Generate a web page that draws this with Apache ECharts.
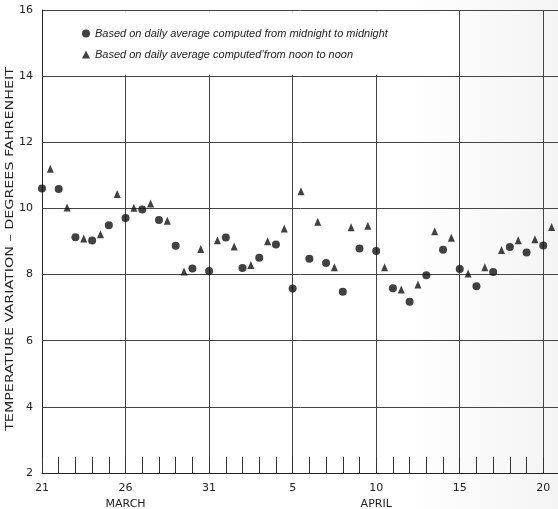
<!DOCTYPE html>
<html>
<head>
<meta charset="utf-8">
<script src="https://cdn.jsdelivr.net/npm/echarts@6/dist/echarts.min.js"></script>
<style>html,body{margin:0;padding:0;background:#fff}#c{width:558px;height:509px}</style>
</head>
<body>
<div id="c"></div>
<script>
// Days counted from March 21 (0) to April 20 (30)
const tickLabels = {0:'21', 5:'26', 10:'31', 15:'5', 20:'10', 25:'15', 30:'20'};
const monthLabels = {5:'MARCH', 20:'APRIL'};
const yAxisTitle = 'TEMPERATURE VARIATION \u2013 DEGREES FAHRENHEIT';

// Midnight-to-midnight daily average (plotted at each day)
const midnightDays = [0,1,2,3,4,5,6,7,8,9,10,11,12,13,14,15,16,17,18,19,20,21,22,23,24,25,26,27,28,29,30];
const midnightVals = [10.60,10.59,9.13,9.03,9.49,9.71,9.97,9.65,8.87,8.18,8.11,9.12,8.20,8.51,8.91,7.58,8.48,8.35,7.48,8.79,8.71,7.59,7.18,7.98,8.75,8.17,7.65,8.08,8.83,8.67,8.88];

// Noon-to-noon daily average (plotted at half days)
const noonDays = [0.5,1.5,2.5,3.5,4.5,5.5,6.5,7.5,8.5,9.5,10.5,11.5,12.5,13.5,14.5,15.5,16.5,17.5,18.5,19.5,20.5,21.5,22.5,23.5,24.5,25.5,26.5,27.5,28.5,29.5,30.5];
const noonVals = [11.20,10.03,9.09,9.22,10.44,10.02,10.15,9.63,8.09,8.77,9.04,8.85,8.29,9.01,9.39,10.52,9.60,8.22,9.43,9.48,8.22,7.55,7.70,9.31,9.11,8.03,8.22,8.74,9.04,9.07,9.44];

const nameMid = 'Based on daily average computed from midnight to midnight';
const nameNoon = 'Based on daily average computed\u2019from noon to noon';

const font = 'DejaVu Sans';
const chart = echarts.init(document.getElementById('c'), null, {renderer:'canvas'});
chart.setOption({
  animation: false,
  backgroundColor: {type:'linear', x:0, y:0, x2:1, y2:0, colorStops:[{offset:0,color:'#ffffff'},{offset:0.72,color:'#ffffff'},{offset:1,color:'#f4f4f4'}]},
  grid: {left: 42, right: -2, top: 10, bottom: 36, containLabel: false, outerBoundsMode: 'none'},
  graphic: [{
    type: 'text', x: 10, y: 249, rotation: Math.PI / 2, scaleX: 1.3, scaleY: 1,
    style: {text: yAxisTitle, font: '11px "DejaVu Sans"', fill: '#222', textAlign: 'center', textVerticalAlign: 'middle'}
  }],
  legend: {
    orient: 'vertical', left: 77, top: 23, itemGap: 10,
    itemWidth: 8, itemHeight: 8,
    textStyle: {fontFamily: 'Liberation Sans', fontStyle: 'italic', fontSize: 11, color: '#222'},
    data: [{name: nameMid, icon: 'circle'}, {name: nameNoon, icon: 'triangle'}]
  },
  xAxis: [{
    type: 'value', min: 0, max: 31, interval: 5, position: 'bottom',
    axisLine: {show: true, onZero: false, lineStyle: {color: '#222', width: 1}},
    axisTick: {show: false},
    splitLine: {show: true, lineStyle: {color: '#444', width: 1}},
    axisLabel: {
      margin: 7, fontFamily: font, fontSize: 11, color: '#222', lineHeight: 16,
      formatter: v => {
        const t = tickLabels[v];
        if (t === undefined) return '';
        return monthLabels[v] ? t + '\n' + monthLabels[v] : t;
      }
    }
  }, {
    type: 'value', min: 0, max: 31, interval: 1, position: 'bottom', offset: 0,
    axisLine: {show: false},
    axisTick: {show: true, inside: true, length: 16, lineStyle: {color: '#333', width: 1}},
    splitLine: {show: false},
    axisLabel: {show: false}
  }],
  yAxis: {
    type: 'value', min: 2, max: 16, interval: 2,
    axisLine: {show: true, lineStyle: {color: '#222', width: 1}},
    axisTick: {show: false},
    splitLine: {show: true, lineStyle: {color: '#444', width: 1}},
    axisLabel: {margin: 9, fontFamily: font, fontSize: 11, color: '#222'}
  },
  series: [{
    name: nameMid, type: 'scatter', symbol: 'circle', symbolSize: 8,
    itemStyle: {color: '#111'},
    data: midnightDays.map((d, i) => [d, midnightVals[i]]),
    markArea: {
      silent: true, itemStyle: {color: '#ffffff'},
      data: [[{xAxis: 0.06, yAxis: 14.04}, {xAxis: 24.94, yAxis: 15.96}]]
    }
  }, {
    name: nameNoon, type: 'scatter', symbol: 'triangle', symbolSize: [7, 8],
    itemStyle: {color: '#111'},
    data: noonDays.map((d, i) => [d, noonVals[i]])
  }]
});
</script>
</body>
</html>
